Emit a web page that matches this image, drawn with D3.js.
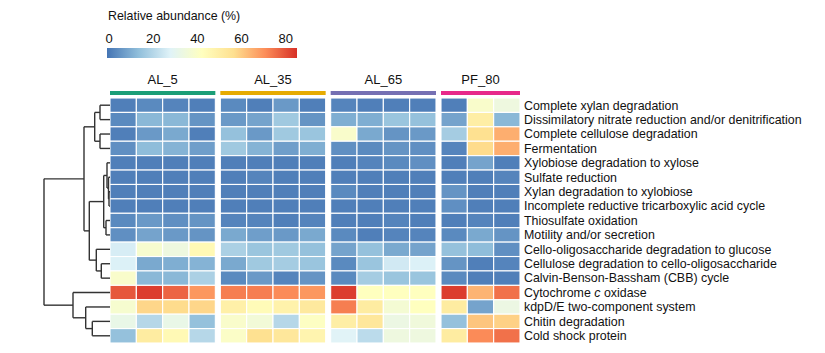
<!DOCTYPE html>
<html>
<head>
<meta charset="utf-8">
<script src="https://cdn.jsdelivr.net/npm/d3@7"></script>
<style>
  body { margin: 0; background: #fff; }
  text { font-family: "Liberation Sans", Arial, sans-serif; fill: #111; }
</style>
</head>
<body>
<div id="container"></div>
<script>
// row labels (top to bottom)
const rowNames = [
  "Complete xylan degradation",
  "Dissimilatory nitrate reduction and/or denitrification",
  "Complete cellulose degradation",
  "Fermentation",
  "Xylobiose degradation to xylose",
  "Sulfate reduction",
  "Xylan degradation to xylobiose",
  "Incomplete reductive tricarboxylic acid cycle",
  "Thiosulfate oxidation",
  "Motility and/or secretion",
  "Cello-oligosaccharide degradation to glucose",
  "Cellulose degradation to cello-oligosaccharide",
  "Calvin-Benson-Bassham (CBB) cycle",
  "Cytochrome c oxidase",
  "kdpD/E two-component system",
  "Chitin degradation",
  "Cold shock protein"
];

const groups = ["AL_5", "AL_35", "AL_65", "PF_80"];
const groupColors = ["#1B9E77", "#E6AB02", "#7570B3", "#E7298A"];

// relative abundance (%) per sample, one row per function
const al5 = [
  [2, 4, 3, 2], [4, 13, 13, 6], [2, 7, 10, 2], [5, 14, 12, 8],
  [2, 2, 2, 2], [2, 2, 2, 2], [2, 2, 2, 2], [2, 2, 2, 2],
  [4, 7, 5, 6], [5, 9, 7, 6], [27, 39, 35, 46], [28, 10, 11, 12],
  [40, 13, 13, 19], [80, 84, 78, 70], [39, 59, 58, 59], [33, 21, 33, 15],
  [15, 52, 46, 21]
];
const al35 = [
  [4, 2, 7, 2], [7, 9, 17, 6], [15, 7, 17, 16], [17, 12, 8, 11],
  [2, 2, 2, 2], [2, 3, 2, 2], [2, 2, 2, 2], [2, 2, 2, 2],
  [3, 3, 2, 3], [10, 8, 7, 10], [19, 16, 17, 15], [10, 17, 18, 16],
  [4, 7, 3, 6], [74, 74, 72, 70], [50, 45, 49, 53], [40, 37, 21, 42],
  [41, 57, 54, 48]
];
const al65 = [
  [3, 2, 2, 2], [11, 11, 16, 15], [40, 10, 6, 7], [5, 4, 6, 5],
  [2, 3, 4, 5], [2, 2, 2, 2], [4, 2, 2, 2], [2, 2, 2, 2],
  [2, 2, 3, 2], [4, 2, 3, 3], [9, 15, 10, 9], [4, 16, 26, 28],
  [4, 18, 16, 16], [84, 43, 43, 43], [74, 52, 38, 43], [51, 54, 34, 36],
  [29, 22, 35, 35]
];
const pf80 = [
  [2, 40, 35], [9, 51, 13], [18, 57, 66], [3, 58, 66],
  [2, 9, 2], [2, 2, 3], [6, 2, 2], [5, 2, 2],
  [2, 3, 2], [4, 10, 6], [15, 14, 5], [6, 2, 3],
  [4, 2, 2], [84, 65, 76], [52, 9, 34], [15, 62, 60],
  [52, 72, 76]
];
const groupValues = [al5, al35, al65, pf80];

// colour legend
const legendTicks = [0, 20, 40, 60, 80];
const maxValue = 86;
const colorStops = ["#4575B4", "#91BFDB", "#E0F3F8", "#FFFFBF", "#FEE090", "#FC8D59", "#D73027"];

// row dendrogram (leaf = row index, h = merge height)
const dendro = {h: 66, children: [
  {h: 26, children: [
    {h: 15.3, children: [{h: 10, children: [0, 1]}, {h: 10, children: [2, 3]}]},
    {h: 20.7, children: [
      {h: 6.3, children: [
        {h: 3, children: [4, {h: 1.5, children: [5, {h: 1, children: [6, 7]}]}]},
        {h: 4, children: [8, 9]}
      ]},
      {h: 13.7, children: [10, {h: 8.7, children: [11, 12]}]}
    ]}
  ]},
  {h: 37, children: [13, {h: 24.3, children: [14, {h: 17.7, children: [15, 16]}]}]}
]};

const w = 825, h = 353;
const svg = d3.select("#container").append("svg")
  .attr("width", w).attr("height", h);

// columns
const columns = [];
groupValues.forEach((g, gi) => {
  g[0].forEach((_, ci) => columns.push({group: gi, col: ci, id: groups[gi] + "_" + ci}));
});
const gap = 5;
const hmLeft = 110, hmRight = 520, hmTop = 98, hmBottom = 343;
const xScale = d3.scaleBand()
  .domain(columns.map(d => d.id))
  .range([hmLeft, hmRight - gap * (groups.length - 1)]);
const colX = d => xScale(d.id) + d.group * gap;

const yScale = d3.scaleBand().domain(rowNames).range([hmTop, hmBottom]);

const color = d3.scaleLinear()
  .domain(colorStops.map((c, i) => i * maxValue / (colorStops.length - 1)))
  .range(colorStops)
  .clamp(true);

// cells
const cells = [];
columns.forEach(c => {
  rowNames.forEach((r, ri) => {
    cells.push({c: c, row: r, v: groupValues[c.group][ri][c.col]});
  });
});
svg.append("g").selectAll("rect")
  .data(cells)
  .enter()
  .append("rect")
  .attr("x", d => colX(d.c))
  .attr("y", d => yScale(d.row))
  .attr("width", xScale.bandwidth())
  .attr("height", yScale.bandwidth())
  .attr("fill", d => color(d.v))
  .attr("stroke", "#fff")
  .attr("stroke-width", 1.1);

// group annotation bars + labels
groups.forEach((g, gi) => {
  const cols = columns.filter(c => c.group === gi);
  const x0 = colX(cols[0]);
  const x1 = colX(cols[cols.length - 1]) + xScale.bandwidth();
  svg.append("rect")
    .attr("x", x0).attr("y", 91)
    .attr("width", x1 - x0).attr("height", 4)
    .attr("fill", groupColors[gi]);
  svg.append("text")
    .attr("x", (x0 + x1) / 2).attr("y", 84)
    .attr("text-anchor", "middle")
    .style("font-size", "13px")
    .text(g);
});

// row labels
const labels = svg.append("g").selectAll("text")
  .data(rowNames)
  .enter()
  .append("text")
  .attr("x", 524)
  .attr("y", d => yScale(d) + yScale.bandwidth() / 2 + 4.3)
  .style("font-size", "12.4px");
labels.each(function(d) {
  const t = d3.select(this);
  if (d === "Cytochrome c oxidase") {
    t.append("tspan").text("Cytochrome ");
    t.append("tspan").style("font-style", "italic").text("c");
    t.append("tspan").text(" oxidase");
  } else {
    t.text(d);
  }
});

// dendrogram
const hScale = d3.scaleLinear().domain([0, 66]).range([hmLeft, 44]);
const dg = svg.append("g")
  .attr("fill", "none")
  .attr("stroke", "#333")
  .attr("stroke-width", 1.4);
function drawNode(node) {
  if (typeof node === "number") {
    return {x: hScale(0), y: yScale(rowNames[node]) + yScale.bandwidth() / 2};
  }
  const kids = node.children.map(drawNode);
  const x = hScale(node.h);
  const y = d3.mean(kids, k => k.y);
  dg.append("line").attr("x1", x).attr("x2", x)
    .attr("y1", kids[0].y).attr("y2", kids[kids.length - 1].y);
  kids.forEach(k => {
    dg.append("line").attr("x1", x).attr("x2", k.x)
      .attr("y1", k.y).attr("y2", k.y);
  });
  return {x: x, y: y};
}
drawNode(dendro);

// legend
const lScale = d3.scaleLinear().domain([0, maxValue]).range([107, 297]);
const defs = svg.append("defs");
const grad = defs.append("linearGradient").attr("id", "legendGrad");
colorStops.forEach((c, i) => {
  grad.append("stop")
    .attr("offset", (i / (colorStops.length - 1) * 100) + "%")
    .attr("stop-color", c);
});
svg.append("text")
  .attr("x", 108).attr("y", 20)
  .style("font-size", "12.4px")
  .text("Relative abundance (%)");
svg.append("rect")
  .attr("x", lScale(0)).attr("y", 48)
  .attr("width", lScale(maxValue) - lScale(0)).attr("height", 10)
  .attr("fill", "url(#legendGrad)");
svg.append("g").selectAll("text")
  .data(legendTicks)
  .enter()
  .append("text")
  .attr("x", d => lScale(d) + 2)
  .attr("y", 43)
  .attr("text-anchor", "middle")
  .style("font-size", "13px")
  .text(d => d);
</script>
</body>
</html>
